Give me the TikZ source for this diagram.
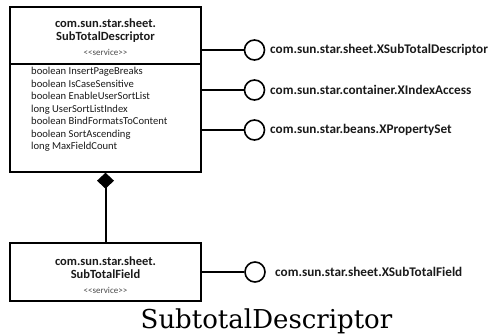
\documentclass[tikz,border=0pt]{standalone}
\usepackage{fontspec}
\setmainfont{Carlito}
\newfontfamily\capfont{DejaVu Serif}
\usetikzlibrary{arrows.meta}
\definecolor{txt}{HTML}{1A1A1A}
\definecolor{svc}{HTML}{4A4A4A}
\begin{document}
\begin{tikzpicture}[x=1pt,y=-1pt,
  box/.style={draw=black, line width=1.4pt, minimum width=191pt, inner sep=0pt},
  ttl/.style={anchor=base, inner sep=0pt, text=txt, font=\bfseries\fontsize{12.5}{14}\selectfont},
  svcs/.style={anchor=base, inner sep=0pt, text=svc, font=\fontsize{9}{10}\selectfont},
  attr/.style={anchor=north west, inner sep=0pt, align=left, text=txt, font=\fontsize{10.6}{12.5}\selectfont},
  iface/.style={draw=black, circle, line width=1.6pt, minimum size=20pt, inner sep=0pt},
  lbl/.style={anchor=west, inner sep=0pt, text=txt, font=\bfseries\fontsize{13.2}{15}\selectfont},
  conn/.style={draw=black, line width=1.6pt}
]
\useasboundingbox (0,0) rectangle (493,334);

% top service box
\node[box, minimum height=165pt] (desc) at (105.5,89.5) {};
\node[ttl] (t1) at (105.5,27.5) {com.sun.star.sheet.};
\node[ttl] (t2) at (105.5,41) {SubTotalDescriptor};
\node[svcs] (s1) at (105.5,56) {<\kern0pt<service>\kern0pt>};
\coordinate (dv) at (0,64);
\draw[line width=1.4pt] (desc.west |- dv) -- (desc.east |- dv);
\node[attr] (a1) at (31,67) {boolean InsertPageBreaks\\
boolean IsCaseSensitive\\
boolean EnableUserSortList\\
long UserSortListIndex\\
boolean BindFormatsToContent\\
boolean SortAscending\\
long MaxFieldCount};

% bottom service box
\node[box, minimum height=58pt] (field) at (105.5,272) {};
\node[ttl] (t3) at (105.5,265) {com.sun.star.sheet.};
\node[ttl] (t4) at (105.5,278.5) {SubTotalField};
\node[svcs] (s2) at (105.5,293) {<\kern0pt<service>\kern0pt>};

% interfaces
\node[iface] (i1) at (254.5,50) {};
\node[iface] (i2) at (254.5,90) {};
\node[iface] (i3) at (254.5,130) {};
\node[iface] (i4) at (255,272) {};
\node[lbl] (l1) at (270,50) {com.sun.star.sheet.XSubTotalDescriptor};
\node[lbl] (l2) at (270,90) {com.sun.star.container.XIndexAccess};
\node[lbl] (l3) at (270,130) {com.sun.star.beans.XPropertySet};
\node[lbl] (l4) at (275,272) {com.sun.star.sheet.XSubTotalField};
\draw[conn] (i1.west) -- (i1.west -| desc.east);
\draw[conn] (i2.west) -- (i2.west -| desc.east);
\draw[conn] (i3.west) -- (i3.west -| desc.east);
\draw[conn] (i4.west) -- (i4.west -| field.east);

% composition
\draw[conn, line width=2pt, -{Diamond[length=16pt,width=17pt]}] (field.north) -- (desc.south);

% caption
\node[anchor=base, inner sep=0pt, font=\capfont\fontsize{26}{30}\selectfont] (cap) at (266.5,328) {SubtotalDescriptor};
\end{tikzpicture}
\end{document}
